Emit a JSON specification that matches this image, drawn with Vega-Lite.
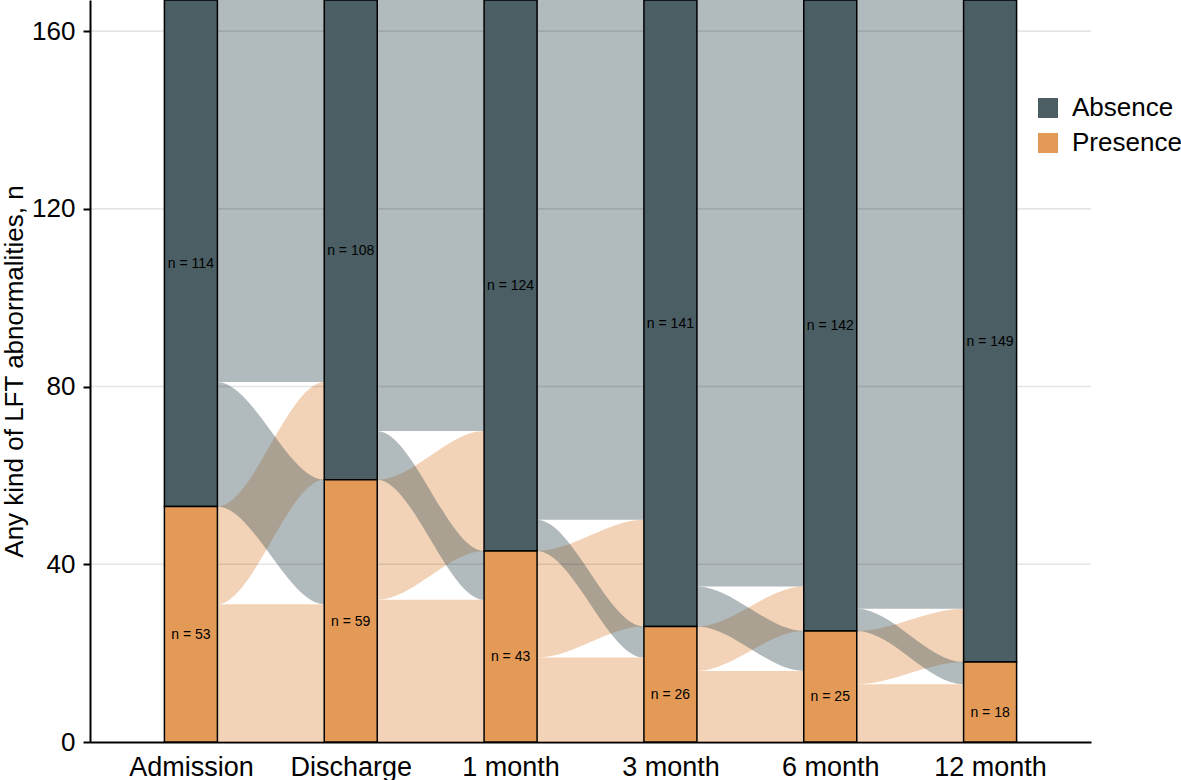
{
  "$schema": "https://vega.github.io/schema/vega-lite/v6.json",
  "autosize": {"type": "none"},
  "padding": {"left": 90, "top": 0, "right": 90, "bottom": 38},
  "width": 1001,
  "height": 742,
  "config": {
    "view": {"stroke": null},
    "font": "Liberation Sans"
  },
  "datasets": {
    "flows": [
      {"flow": "1PP", "from": "Presence", "x": 0, "lo": 0, "hi": 31},
      {"flow": "1PP", "from": "Presence", "x": 1, "lo": 0, "hi": 31},
      {"flow": "1PA", "from": "Presence", "x": 0, "lo": 31, "hi": 53},
      {"flow": "1PA", "from": "Presence", "x": 0.164, "lo": 31, "hi": 53},
      {"flow": "1PA", "from": "Presence", "x": 0.836, "lo": 59, "hi": 81},
      {"flow": "1PA", "from": "Presence", "x": 1, "lo": 59, "hi": 81},
      {"flow": "1AP", "from": "Absence", "x": 0, "lo": 53, "hi": 81},
      {"flow": "1AP", "from": "Absence", "x": 0.164, "lo": 53, "hi": 81},
      {"flow": "1AP", "from": "Absence", "x": 0.836, "lo": 31, "hi": 59},
      {"flow": "1AP", "from": "Absence", "x": 1, "lo": 31, "hi": 59},
      {"flow": "1AA", "from": "Absence", "x": 0, "lo": 81, "hi": 167},
      {"flow": "1AA", "from": "Absence", "x": 1, "lo": 81, "hi": 167},

      {"flow": "2PP", "from": "Presence", "x": 1, "lo": 0, "hi": 32},
      {"flow": "2PP", "from": "Presence", "x": 2, "lo": 0, "hi": 32},
      {"flow": "2PA", "from": "Presence", "x": 1, "lo": 32, "hi": 59},
      {"flow": "2PA", "from": "Presence", "x": 1.164, "lo": 32, "hi": 59},
      {"flow": "2PA", "from": "Presence", "x": 1.836, "lo": 43, "hi": 70},
      {"flow": "2PA", "from": "Presence", "x": 2, "lo": 43, "hi": 70},
      {"flow": "2AP", "from": "Absence", "x": 1, "lo": 59, "hi": 70},
      {"flow": "2AP", "from": "Absence", "x": 1.164, "lo": 59, "hi": 70},
      {"flow": "2AP", "from": "Absence", "x": 1.836, "lo": 32, "hi": 43},
      {"flow": "2AP", "from": "Absence", "x": 2, "lo": 32, "hi": 43},
      {"flow": "2AA", "from": "Absence", "x": 1, "lo": 70, "hi": 167},
      {"flow": "2AA", "from": "Absence", "x": 2, "lo": 70, "hi": 167},

      {"flow": "3PP", "from": "Presence", "x": 2, "lo": 0, "hi": 19},
      {"flow": "3PP", "from": "Presence", "x": 3, "lo": 0, "hi": 19},
      {"flow": "3PA", "from": "Presence", "x": 2, "lo": 19, "hi": 43},
      {"flow": "3PA", "from": "Presence", "x": 2.164, "lo": 19, "hi": 43},
      {"flow": "3PA", "from": "Presence", "x": 2.836, "lo": 26, "hi": 50},
      {"flow": "3PA", "from": "Presence", "x": 3, "lo": 26, "hi": 50},
      {"flow": "3AP", "from": "Absence", "x": 2, "lo": 43, "hi": 50},
      {"flow": "3AP", "from": "Absence", "x": 2.164, "lo": 43, "hi": 50},
      {"flow": "3AP", "from": "Absence", "x": 2.836, "lo": 19, "hi": 26},
      {"flow": "3AP", "from": "Absence", "x": 3, "lo": 19, "hi": 26},
      {"flow": "3AA", "from": "Absence", "x": 2, "lo": 50, "hi": 167},
      {"flow": "3AA", "from": "Absence", "x": 3, "lo": 50, "hi": 167},

      {"flow": "4PP", "from": "Presence", "x": 3, "lo": 0, "hi": 16},
      {"flow": "4PP", "from": "Presence", "x": 4, "lo": 0, "hi": 16},
      {"flow": "4PA", "from": "Presence", "x": 3, "lo": 16, "hi": 26},
      {"flow": "4PA", "from": "Presence", "x": 3.164, "lo": 16, "hi": 26},
      {"flow": "4PA", "from": "Presence", "x": 3.836, "lo": 25, "hi": 35},
      {"flow": "4PA", "from": "Presence", "x": 4, "lo": 25, "hi": 35},
      {"flow": "4AP", "from": "Absence", "x": 3, "lo": 26, "hi": 35},
      {"flow": "4AP", "from": "Absence", "x": 3.164, "lo": 26, "hi": 35},
      {"flow": "4AP", "from": "Absence", "x": 3.836, "lo": 16, "hi": 25},
      {"flow": "4AP", "from": "Absence", "x": 4, "lo": 16, "hi": 25},
      {"flow": "4AA", "from": "Absence", "x": 3, "lo": 35, "hi": 167},
      {"flow": "4AA", "from": "Absence", "x": 4, "lo": 35, "hi": 167},

      {"flow": "5PP", "from": "Presence", "x": 4, "lo": 0, "hi": 13},
      {"flow": "5PP", "from": "Presence", "x": 5, "lo": 0, "hi": 13},
      {"flow": "5PA", "from": "Presence", "x": 4, "lo": 13, "hi": 25},
      {"flow": "5PA", "from": "Presence", "x": 4.164, "lo": 13, "hi": 25},
      {"flow": "5PA", "from": "Presence", "x": 4.836, "lo": 18, "hi": 30},
      {"flow": "5PA", "from": "Presence", "x": 5, "lo": 18, "hi": 30},
      {"flow": "5AP", "from": "Absence", "x": 4, "lo": 25, "hi": 30},
      {"flow": "5AP", "from": "Absence", "x": 4.164, "lo": 25, "hi": 30},
      {"flow": "5AP", "from": "Absence", "x": 4.836, "lo": 13, "hi": 18},
      {"flow": "5AP", "from": "Absence", "x": 5, "lo": 13, "hi": 18},
      {"flow": "5AA", "from": "Absence", "x": 4, "lo": 30, "hi": 167},
      {"flow": "5AA", "from": "Absence", "x": 5, "lo": 30, "hi": 167}
    ],
    "bars": [
      {"stage": 0, "status": "Absence", "lo": 53, "hi": 167, "label": "n = 114"},
      {"stage": 0, "status": "Presence", "lo": 0, "hi": 53, "label": "n = 53"},
      {"stage": 1, "status": "Absence", "lo": 59, "hi": 167, "label": "n = 108"},
      {"stage": 1, "status": "Presence", "lo": 0, "hi": 59, "label": "n = 59"},
      {"stage": 2, "status": "Absence", "lo": 43, "hi": 167, "label": "n = 124"},
      {"stage": 2, "status": "Presence", "lo": 0, "hi": 43, "label": "n = 43"},
      {"stage": 3, "status": "Absence", "lo": 26, "hi": 167, "label": "n = 141"},
      {"stage": 3, "status": "Presence", "lo": 0, "hi": 26, "label": "n = 26"},
      {"stage": 4, "status": "Absence", "lo": 25, "hi": 167, "label": "n = 142"},
      {"stage": 4, "status": "Presence", "lo": 0, "hi": 25, "label": "n = 25"},
      {"stage": 5, "status": "Absence", "lo": 18, "hi": 167, "label": "n = 149"},
      {"stage": 5, "status": "Presence", "lo": 0, "hi": 18, "label": "n = 18"}
    ],
    "grid": [{"g": 40}, {"g": 80}, {"g": 120}, {"g": 160}]
  },
  "resolve": {"scale": {"color": "independent"}},
  "layer": [
    {
      "data": {"name": "flows"},
      "mark": {"type": "area", "interpolate": "monotone", "opacity": 0.43, "orient": "vertical"},
      "encoding": {
        "x": {
          "field": "x",
          "type": "quantitative",
          "scale": {"domain": [-0.6, 5.6], "nice": false, "zero": false},
          "axis": {
            "values": [0, 1, 2, 3, 4, 5],
            "labelExpr": "['Admission', 'Discharge', '1 month', '3 month', '6 month', '12 month'][datum.value]",
            "title": null,
            "grid": false,
            "ticks": false,
            "tickSize": 0,
            "labelPadding": 12,
            "labelFontSize": 27,
            "labelColor": "black",
            "domainColor": "black",
            "domainWidth": 2
          }
        },
        "y": {
          "field": "lo",
          "type": "quantitative",
          "scale": {"domain": [0, 167], "nice": false},
          "axis": {
            "values": [0, 40, 80, 120, 160],
            "title": "Any kind of LFT abnormalities, n",
            "titleFontSize": 26,
            "titleFontWeight": "normal",
            "titleColor": "black",
            "titlePadding": 4,
            "grid": false,
            "labelFontSize": 26,
            "labelColor": "black",
            "labelPadding": 8,
            "tickSize": 7,
            "tickWidth": 2,
            "tickColor": "black",
            "domainColor": "black",
            "domainWidth": 2
          }
        },
        "y2": {"field": "hi"},
        "color": {
          "field": "from",
          "type": "nominal",
          "scale": {"domain": ["Absence", "Presence"], "range": ["#4a5e64", "#e39a57"]},
          "legend": null
        },
        "detail": {"field": "flow"}
      }
    },
    {
      "data": {"name": "grid"},
      "mark": {"type": "rule", "color": "black", "opacity": 0.1, "strokeWidth": 1.6},
      "encoding": {
        "y": {"field": "g", "type": "quantitative"}
      }
    },
    {
      "data": {"name": "bars"},
      "mark": {"type": "bar", "width": 53, "stroke": "black", "strokeWidth": 1.5},
      "encoding": {
        "x": {"field": "stage", "type": "quantitative"},
        "y": {"field": "lo", "type": "quantitative"},
        "y2": {"field": "hi"},
        "color": {
          "field": "status",
          "type": "nominal",
          "scale": {"domain": ["Absence", "Presence"], "range": ["#4a5e64", "#e39a57"]},
          "legend": {
            "title": null,
            "orient": "none",
            "legendX": 945,
            "legendY": 95,
            "padding": 0,
            "symbolType": "square",
            "symbolSize": 400,
            "symbolStrokeWidth": 0,
            "labelFontSize": 26,
            "labelColor": "black",
            "labelOffset": 11,
            "rowPadding": 9
          }
        }
      }
    },
    {
      "data": {"name": "bars"},
      "transform": [{"fold": ["lo", "hi"], "as": ["edge", "v"]}],
      "mark": {"type": "text", "fontSize": 14, "color": "black", "dy": 11},
      "encoding": {
        "x": {"field": "stage", "type": "quantitative"},
        "y": {"aggregate": "mean", "field": "v", "type": "quantitative"},
        "text": {"field": "label"}
      }
    }
  ]
}
